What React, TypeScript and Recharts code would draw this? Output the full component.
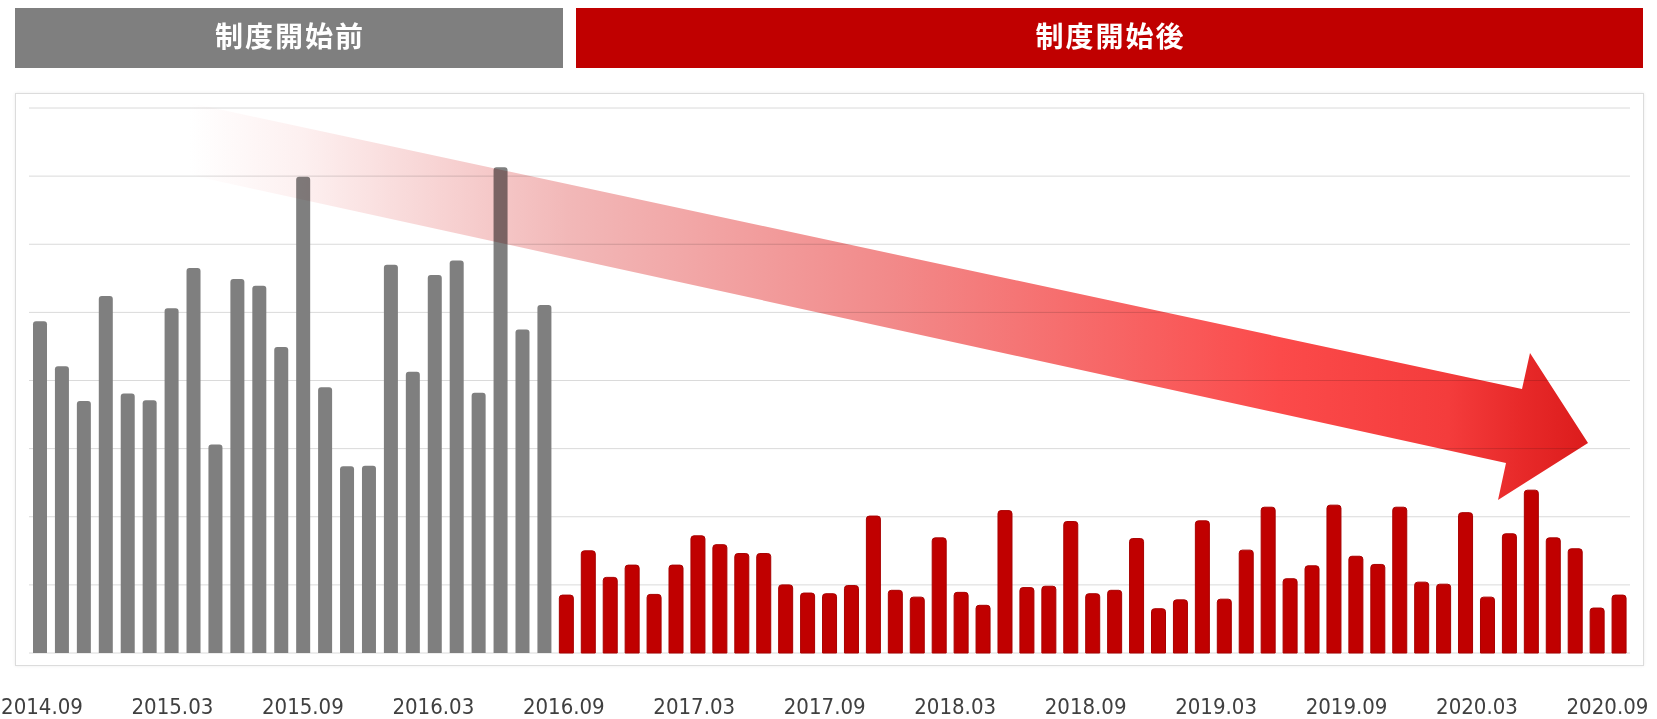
import React from "react";
import { BarChart, Bar, XAxis, YAxis, CartesianGrid } from "recharts";

const months = [
  "2014.09", "2014.10", "2014.11", "2014.12",
  "2015.01", "2015.02", "2015.03", "2015.04", "2015.05", "2015.06", "2015.07", "2015.08", "2015.09", "2015.10", "2015.11", "2015.12",
  "2016.01", "2016.02", "2016.03", "2016.04", "2016.05", "2016.06", "2016.07", "2016.08", "2016.09", "2016.10", "2016.11", "2016.12",
  "2017.01", "2017.02", "2017.03", "2017.04", "2017.05", "2017.06", "2017.07", "2017.08", "2017.09", "2017.10", "2017.11", "2017.12",
  "2018.01", "2018.02", "2018.03", "2018.04", "2018.05", "2018.06", "2018.07", "2018.08", "2018.09", "2018.10", "2018.11", "2018.12",
  "2019.01", "2019.02", "2019.03", "2019.04", "2019.05", "2019.06", "2019.07", "2019.08", "2019.09", "2019.10", "2019.11", "2019.12",
  "2020.01", "2020.02", "2020.03", "2020.04", "2020.05", "2020.06", "2020.07", "2020.08", "2020.09",
];

// 制度開始前 (2014.09 – 2016.08)
const beforeValues = [487, 421, 370, 524, 381, 371, 506, 565, 306, 549, 539, 449, 699, 390, 274, 275, 570, 413, 555, 576, 382, 713, 475, 511];

// 制度開始後 (2016.09 – 2020.09)
const afterValues = [
  85, 150, 111, 129, 86, 129, 172, 159, 146, 146,
  100, 88, 87, 99, 201, 92, 82, 169, 89, 70,
  209, 96, 98, 193, 87, 92, 168, 65, 78, 194,
  79, 151, 214, 109, 128, 217, 142, 130, 214, 104,
  101, 206, 82, 175, 239, 169, 153, 66, 85,
];

const yTicks = [0, 100, 200, 300, 400, 500, 600, 700, 800];
const headerBefore = "制度開始前";
const headerAfter = "制度開始後";

const data = months.map((m, i) => ({
  month: m,
  before: i < beforeValues.length ? beforeValues[i] : 0,
  after: i >= beforeValues.length ? afterValues[i - beforeValues.length] : 0,
}));

// tick labels in the reference sit on a very slightly compressed spacing
const Tick = (props: any) => {
  const { x, y, payload } = props;
  const dx = 2 - (x - 40) * 0.0086;
  return (
    <text
      x={x + dx}
      y={y + 61}
      textAnchor="middle"
      fontSize={22}
      fill="#404040"
      fontFamily="'DejaVu Sans Condensed', 'DejaVu Sans', Verdana, sans-serif"
      style={{ fontStretch: "condensed" }}
    >
      {payload.value}
    </text>
  );
};

const headerText: React.CSSProperties = {
  color: "#ffffff",
  fontFamily: "'Noto Sans CJK JP', sans-serif",
  fontWeight: 700,
  fontSize: 28,
  letterSpacing: 2,
  display: "flex",
  alignItems: "center",
  justifyContent: "center",
  position: "absolute",
  paddingBottom: 7,
  paddingLeft: 2,
  boxSizing: "border-box",
};

export default function App() {
  return (
    <div style={{ position: "absolute", left: 0, top: 0, width: 1657, height: 719, background: "#ffffff", overflow: "hidden" }}>
      <div style={{ ...headerText, left: 15, top: 8, width: 548, height: 60, background: "#7f7f7f" }}>{headerBefore}</div>
      <div style={{ ...headerText, left: 576, top: 8, width: 1067, height: 60, background: "#c00000" }}>{headerAfter}</div>
      <div
        style={{
          position: "absolute",
          left: 15,
          top: 93,
          width: 1627,
          height: 571,
          border: "1px solid #dcdcdc",
          boxShadow: "0 0 3px rgba(0,0,0,0.08)",
        }}
      />
      <div style={{ position: "absolute", left: 0, top: 0 }}>
        <BarChart
          width={1657}
          height={719}
          data={data}
          margin={{ top: 108, right: 27, bottom: 0, left: 29 }}
          barSize={14}
        >
          <CartesianGrid vertical={false} stroke="#dadada" />
          <YAxis hide domain={[0, 800]} ticks={yTicks} />
          <XAxis
            dataKey="month"
            interval={5}
            height={66}
            tickLine={false}
            axisLine={false}
            tickSize={0}
            tickMargin={0}
            tick={<Tick />}
          />
          <Bar dataKey="before" stackId="a" fill="#7f7f7f" radius={[3, 3, 0, 0]} isAnimationActive={false} />
          <Bar dataKey="after" stackId="a" fill="#c00000" stroke="#a80000" strokeWidth={1} radius={[3, 3, 0, 0]} isAnimationActive={false} />
        </BarChart>
      </div>
      <svg
        width={1657}
        height={719}
        style={{ position: "absolute", left: 0, top: 0, pointerEvents: "none", mixBlendMode: "multiply" }}
      >
        <defs>
          <linearGradient id="arrowGrad" gradientUnits="userSpaceOnUse" x1={190} y1={0} x2={1588} y2={0}>
            <stop offset="0" stopColor="#ffffff" />
            <stop offset="0.08" stopColor="#fdf0f0" />
            <stop offset="0.27" stopColor="#f2b8b8" />
            <stop offset="0.5" stopColor="#f28a8a" />
            <stop offset="0.78" stopColor="#fb4a4a" />
            <stop offset="0.9" stopColor="#f43c3c" />
            <stop offset="0.95" stopColor="#e82a2a" />
            <stop offset="1" stopColor="#dc1c1c" />
          </linearGradient>
        </defs>
        <polygon
          points="190,103 1522,389 1530,353 1588,443 1498,500 1506,463 190,175"
          fill="url(#arrowGrad)"
        />
      </svg>
    </div>
  );
}
